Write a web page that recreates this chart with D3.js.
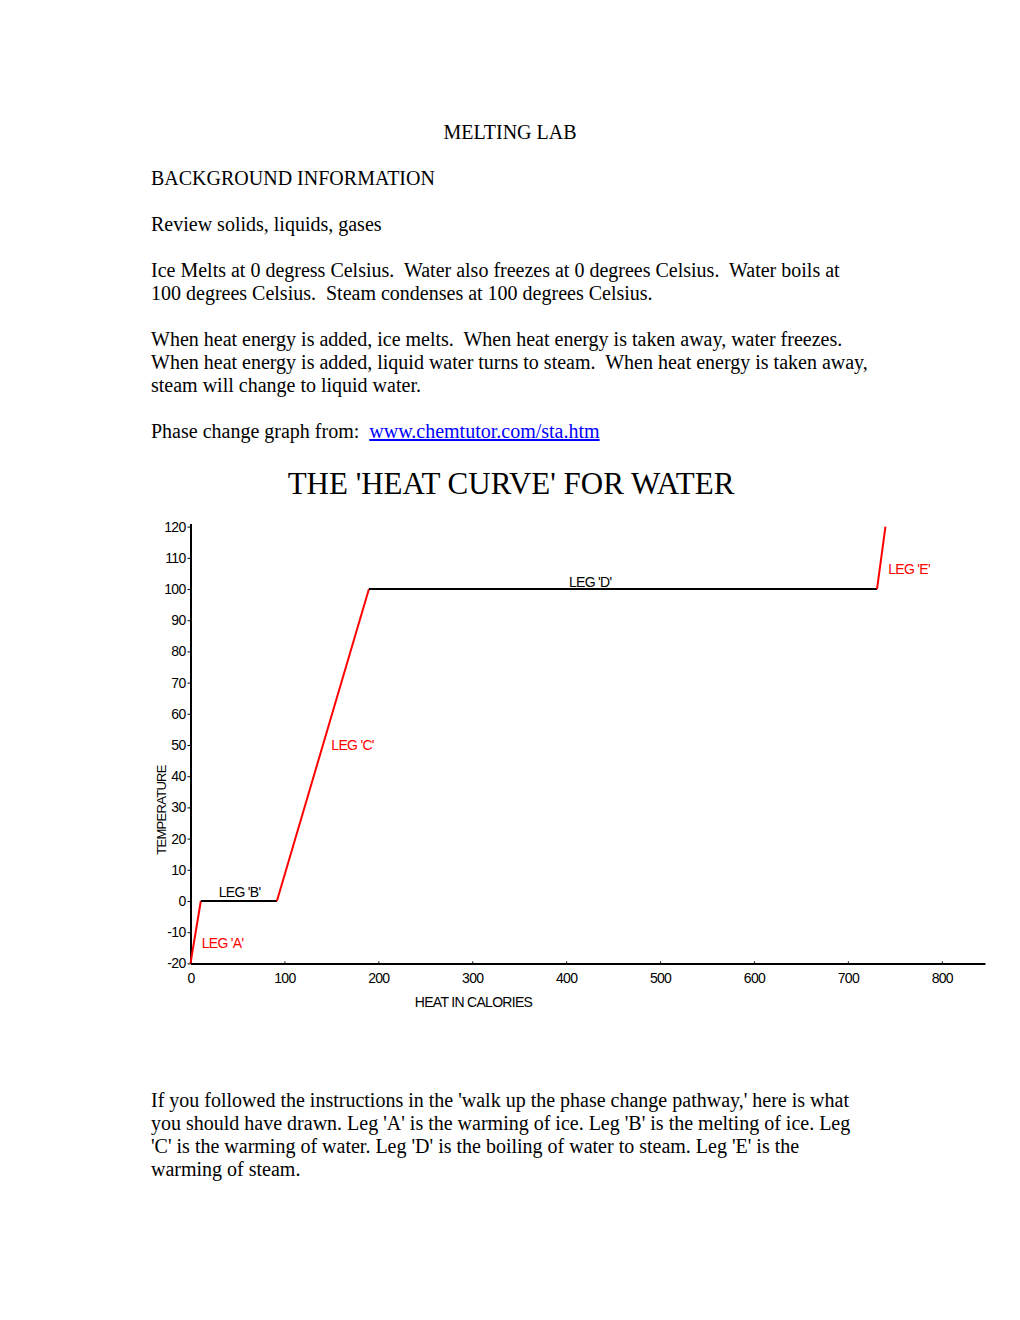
<!DOCTYPE html>
<html>
<head>
<meta charset="utf-8">
<script src="https://cdn.jsdelivr.net/npm/d3@7"></script>
<style>
  html,body{margin:0;padding:0;background:#fff;}
  svg{display:block;}
  .doc{font-family:"Liberation Serif","Times New Roman",serif;font-size:20px;fill:#000;}
  .chart text{font-family:"Liberation Sans",Arial,sans-serif;font-size:14px;letter-spacing:-0.7px;}
</style>
</head>
<body>
<div id="page"></div>
<script>
// ---- page text ----
const docTitle = 'MELTING LAB';
const docLines = [
  ['BACKGROUND INFORMATION'],
  ['Review solids, liquids, gases'],
  ['Ice Melts at 0 degress Celsius.  Water also freezes at 0 degrees Celsius.  Water boils at',
   '100 degrees Celsius.  Steam condenses at 100 degrees Celsius.'],
  ['When heat energy is added, ice melts.  When heat energy is taken away, water freezes.',
   'When heat energy is added, liquid water turns to steam.  When heat energy is taken away,',
   'steam will change to liquid water.']
];
const sourceLead = 'Phase change graph from:  ';
const sourceLink = 'www.chemtutor.com/sta.htm';
const chartTitle = "THE 'HEAT CURVE' FOR WATER";
const footLines = [
  "If you followed the instructions in the 'walk up the phase change pathway,' here is what",
  "you should have drawn. Leg 'A' is the warming of ice. Leg 'B' is the melting of ice. Leg",
  "'C' is the warming of water. Leg 'D' is the boiling of water to steam. Leg 'E' is the",
  "warming of steam."
];

// ---- chart data ----
const xTicks = [0,100,200,300,400,500,600,700,800];
const yTicks = [-20,-10,0,10,20,30,40,50,60,70,80,90,100,110,120];
const legs = [
  {name:'A', phase:'heat', pts:[[0,-20],[11,0]]},
  {name:'B', phase:'flat', pts:[[11,0],[92,0]]},
  {name:'C', phase:'heat', pts:[[92,0],[190,100]]},
  {name:'D', phase:'flat', pts:[[190,100],[731,100]]},
  {name:'E', phase:'heat', pts:[[731,100],[740,120]]}
];
// label anchors in data units (heat, temperature)
const legLabels = [
  {name:'A', at:[12,-15]},
  {name:'B', at:[30,1.2]},
  {name:'C', at:[150,48.4]},
  {name:'D', at:[403,100.6]},
  {name:'E', at:[743,104.8]}
];
const xLabel = 'HEAT IN CALORIES';
const yLabel = 'TEMPERATURE';

const W=1020, H=1320, LEFT=151, LH=23;
const keepSpaces = s => s.replace(/  /g,'\u00a0 ');
const svg=d3.select('#page').append('svg').attr('width',W).attr('height',H);

// document text
const doc=svg.append('g').attr('class','doc');
doc.append('text').attr('x',W/2).attr('y',139).attr('text-anchor','middle').text(docTitle);
let y0=185;
docLines.forEach(par=>{
  par.forEach((ln,i)=> doc.append('text').attr('x',LEFT).attr('y',y0+i*LH).text(keepSpaces(ln)));
  y0 += par.length*LH + LH;
});
const src=doc.append('text').attr('x',LEFT).attr('y',y0);
src.append('tspan').text(keepSpaces(sourceLead));
src.append('tspan').attr('fill','#0000ff').attr('text-decoration','underline').text(sourceLink);

svg.append('text').attr('x',511).attr('y',494).attr('text-anchor','middle')
  .style('font-family','"Liberation Serif","Times New Roman",serif').style('font-size','31px')
  .text(chartTitle);

footLines.forEach((ln,i)=> doc.append('text').attr('x',LEFT).attr('y',1107+i*LH).text(ln));

// chart
const x=d3.scaleLinear().domain([0,846]).range([190.5,985]);
const y=d3.scaleLinear().domain([-20,121]).range([963.4,523.5]);
const g=svg.append('g').attr('class','chart');
const plain = d => String(d);

const yAxis=g.append('g').attr('transform',`translate(${x(0)},0)`)
  .call(d3.axisLeft(y).tickValues(yTicks).tickFormat(plain).tickSize(3).tickPadding(2).tickSizeOuter(0));
yAxis.select('.domain').attr('stroke-width',2);
yAxis.selectAll('text').attr('fill','#000');

const xAxis=g.append('g').attr('transform',`translate(0,${y(-20)})`)
  .call(d3.axisBottom(x).tickValues(xTicks).tickFormat(plain).tickSize(-2).tickSizeOuter(0));
xAxis.select('.domain').attr('stroke-width',2);
xAxis.selectAll('text').attr('fill','#000').attr('y',20).attr('dy',0);

const line=d3.line().x(d=>x(d[0])).y(d=>y(d[1]));
g.selectAll('path.leg').data(legs).join('path').attr('class','leg')
  .attr('d',d=>line(d.pts)).attr('fill','none')
  .attr('stroke',d=>d.phase==='heat'?'#ff0000':'#000')
  .attr('stroke-width',2);

const phaseOf=n=>legs.find(l=>l.name===n).phase;
g.selectAll('text.leglab').data(legLabels).join('text').attr('class','leglab')
  .attr('x',d=>x(d.at[0])).attr('y',d=>y(d.at[1]))
  .attr('fill',d=>phaseOf(d.name)==='heat'?'#ff0000':'#000')
  .text(d=>`LEG '${d.name}'`);

g.append('text').attr('x',473.5).attr('y',1007).attr('text-anchor','middle').text(xLabel);
g.append('text').attr('transform','translate(166,810) rotate(-90)').attr('text-anchor','middle')
  .style('font-size','13px').text(yLabel);
</script>
</body>
</html>
